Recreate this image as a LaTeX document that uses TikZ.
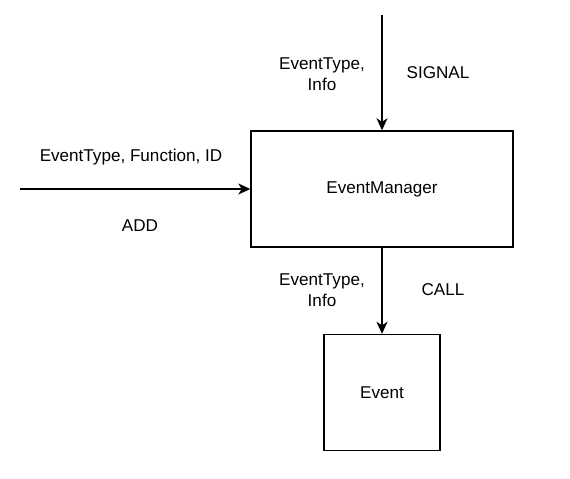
\documentclass[tikz,border=0pt]{standalone}
\usepackage{fontspec}
\setmainfont{Liberation Sans}
\usetikzlibrary{positioning,arrows.meta}

\begin{document}
\begin{tikzpicture}[
    x=1pt, y=-1pt,
    line width=1.4pt,
    every node/.style={font=\fontsize{17.1}{21.5}\selectfont, align=center},
    box/.style={draw, line width=1.4pt, inner sep=0pt},
    flow/.style={-{Stealth[length=12pt,width=11pt,inset=3.5pt]}}
]
\useasboundingbox (0,0) rectangle (570,479);

% Boxes
\node[box, minimum width=262pt, minimum height=116pt] (mgr) at (382,189) {EventManager};
\node[box, minimum width=116pt, minimum height=116pt] (evt) at (382,392.5) {Event};

% Free ends
\coordinate (sigin) at (382,15);
\coordinate (addin) at (20,189);

% Arrows
\draw[flow] (sigin) -- (mgr.north);
\draw[flow] (addin) -- (mgr.west);
\draw[flow] (mgr.south) -- (evt.north);

% Labels
\node (siginfo) at (322,74) {EventType,\\Info};
\node (siglbl) at (438,73) {SIGNAL};
\node (addinfo) at (131,157) {EventType, Function, ID};
\node (addlbl) at (140,226) {ADD};
\node (callinfo) at (322,290) {EventType,\\Info};
\node (calllbl) at (443,290) {CALL};

\end{tikzpicture}
\end{document}
